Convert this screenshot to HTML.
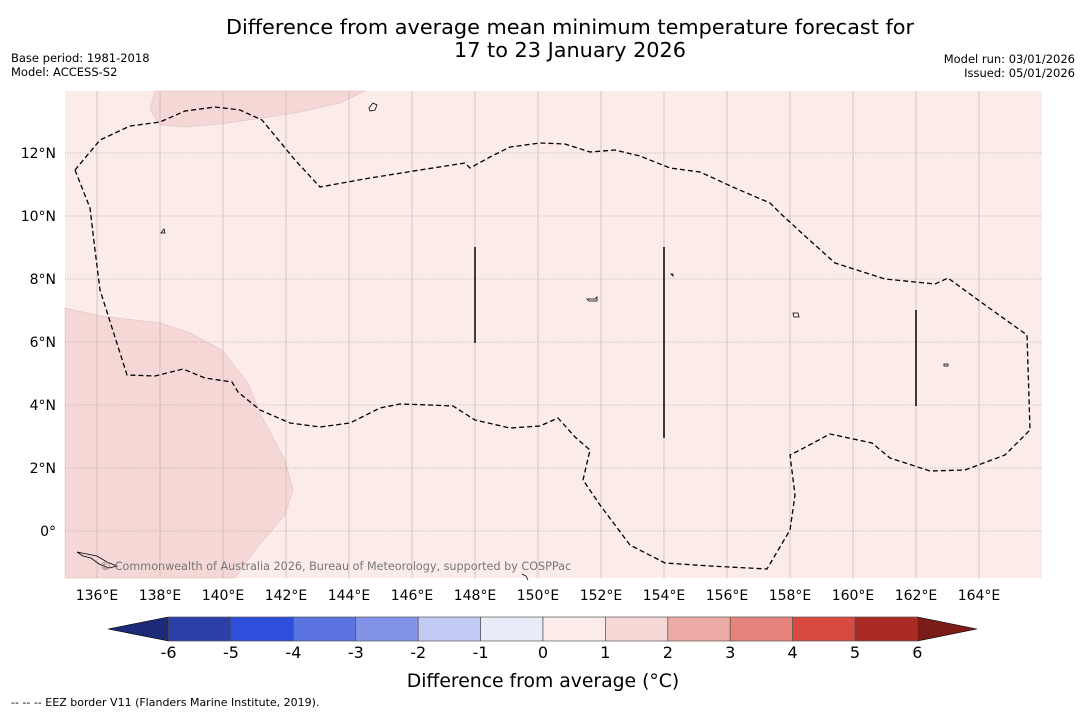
<!DOCTYPE html>
<html><head><meta charset="utf-8"><style>
body{margin:0;background:#fff;width:1085px;height:713px;overflow:hidden;font-family:"Liberation Sans","DejaVu Sans",sans-serif}
</style></head><body>
<svg width="1085" height="713" xmlns="http://www.w3.org/2000/svg" font-family="DejaVu Sans, Liberation Sans, sans-serif">
<text x="570" y="34" font-size="20.8" text-anchor="middle">Difference from average mean minimum temperature forecast for</text>
<text x="570" y="57" font-size="20.8" text-anchor="middle">17 to 23 January 2026</text>
<text x="11" y="62" font-size="11.5">Base period: 1981-2018</text>
<text x="11" y="76" font-size="11.5">Model: ACCESS-S2</text>
<text x="1075" y="63" font-size="11.5" text-anchor="end">Model run: 03/01/2026</text>
<text x="1075" y="77" font-size="11.5" text-anchor="end">Issued: 05/01/2026</text>
<g id="map">
<rect x="65" y="91" width="977" height="487" fill="#fbebe9"/>
<polygon points="65,308 100,316 160,323 190,333 222,350 248,383 262,417 285,460 293,490 285,515 255,550 235,578 65,578" fill="#f5d8d5" stroke="#d9bcb9" stroke-width="0.5"/>
<polygon points="155,91 365,91 340,103 300,112 262,118 220,124 185,127 160,125 150,110" fill="#f5d8d5" stroke="#d9bcb9" stroke-width="0.5"/>
<g id="grid"></g>
<polyline fill="none" stroke="#000" stroke-width="1.3" stroke-dasharray="5,3" points="75,170 90,208 95,250 100,290 127,375 155,376 183,369 205,378 232,382 238,392 260,410 290,423 320,427 350,423 380,408 400,404 430,405 453,406 475,420 510,428 540,426 558,418 575,437 590,450 583,480 600,505 630,545 665,563 710,566 767,569 790,530 795,495 790,455 800,450 830,434 872,443 890,458 930,471 965,470 1005,455 1030,430 1027,335 985,305 948,278 935,284 885,279 835,263 805,236 780,213 770,203 735,188 700,172 670,168 640,156 615,150 590,152 565,144 540,143 510,147 490,157 470,168 465,163 420,170 370,178 320,187 295,160 262,120 240,110 215,107 185,111 160,122 130,126 100,140 75,170"/>
<line x1="475" y1="247" x2="475" y2="343" stroke="#000" stroke-width="1.5"/>
<line x1="664" y1="247" x2="664" y2="438" stroke="#000" stroke-width="1.5"/>
<line x1="916" y1="310" x2="916" y2="406" stroke="#000" stroke-width="1.5"/>
<g fill="none" stroke="#000" stroke-width="0.8">
<path d="M369,108 l4,-5 l4,2 l-2,5 l-5,1z"/><path d="M161,233 l3,-4 l1,4z"/><path d="M587,299 l8,0 l2,-2 l0,4 l-8,0z"/><path d="M793,313 l5,0 l1,4 l-5,0z"/><path d="M944,364 l4,0 l0,2 l-4,0z"/><path d="M77,552 l6,4 l8,2 l8,6 l10,4 l8,-2 l-10,-4 l-10,-6z"/><path d="M522,574 l4,2 l2,4"/><path d="M671,274 l2,0 l0,2z"/>
</g>
<text x="100" y="570" font-size="11.2" fill="#777">© Commonwealth of Australia 2026, Bureau of Meteorology, supported by COSPPac</text>
</g>
<g id="xticks"></g><g id="yticks"></g>
<g id="cbar"></g>
<text x="543" y="687" font-size="18.8" text-anchor="middle">Difference from average (°C)</text>
<text x="11" y="706" font-size="11">--  --  -- EEZ border V11 (Flanders Marine Institute, 2019).</text>
</svg>
<script>
const NS="http://www.w3.org/2000/svg";
const lonTicks=[136,138,140,142,144,146,148,150,152,154,156,158,160,162,164];
const latTicks=[0,2,4,6,8,10,12];
const cbarLevels=[-6,-5,-4,-3,-2,-1,0,1,2,3,4,5,6];
const cbarColors=["#2a3fa8","#2e4fdc","#5a73e0","#8394e8","#c2c9f2","#e9ebf8","#fbebe9","#f5d8d5","#ecaaa5","#e5827c","#d84a40","#aa2a24"];
const xScale=lon=>97+(lon-136)*31.5;
const yScale=lat=>531-lat*31.5;
function el(t,a,p){const e=document.createElementNS(NS,t);for(const k in a)e.setAttribute(k,a[k]);p.appendChild(e);return e;}
const grid=document.getElementById('grid'),xt=document.getElementById('xticks'),yt=document.getElementById('yticks');
lonTicks.forEach(l=>{const x=xScale(l);
 const g=el('line',{x1:x,x2:x,y1:91,y2:578,stroke:'#b0a0a0','stroke-width':0.5},grid);
 
 
 const t=el('text',{x:x,y:600,'font-size':14,'text-anchor':'middle'},xt);t.textContent=l+'°E';
 
 });
latTicks.forEach(l=>{const y=yScale(l);
 const g=el('line',{x1:65,x2:1042,y1:y,y2:y,stroke:'#888','stroke-width':0.6,'stroke-dasharray':'1,1.5'},grid);
 
 
 const t=el('text',{x:56,y:y+5,'font-size':14,'text-anchor':'end'},yt);t.textContent=l===0?'0°':l+'°N';
 
 });
const cb=document.getElementById('cbar');
const cx=v=>543+v*62.4, cy0=617, cy1=641;
const lt=el('polygon',{points:`108,629 ${cx(-6)},${cy0} ${cx(-6)},${cy1}`,fill:'#1c2a78',stroke:'#000','stroke-width':0.6},cb);


const rt=el('polygon',{points:`977,629 ${cx(6)},${cy0} ${cx(6)},${cy1}`,fill:'#7a1c18',stroke:'#000','stroke-width':0.6},cb);


cbarColors.forEach((c,i)=>{const a=cbarLevels[i],b=cbarLevels[i+1];
 const r=el('rect',{x:cx(a),y:cy0,width:cx(b)-cx(a),height:cy1-cy0,fill:c,stroke:'#555','stroke-width':0.7},cb);
 
 });
cbarLevels.forEach(v=>{const t=el('text',{x:cx(v),y:658,'font-size':16,'text-anchor':'middle'},cb);t.textContent=v;
 
 });
</script>
</body></html>
